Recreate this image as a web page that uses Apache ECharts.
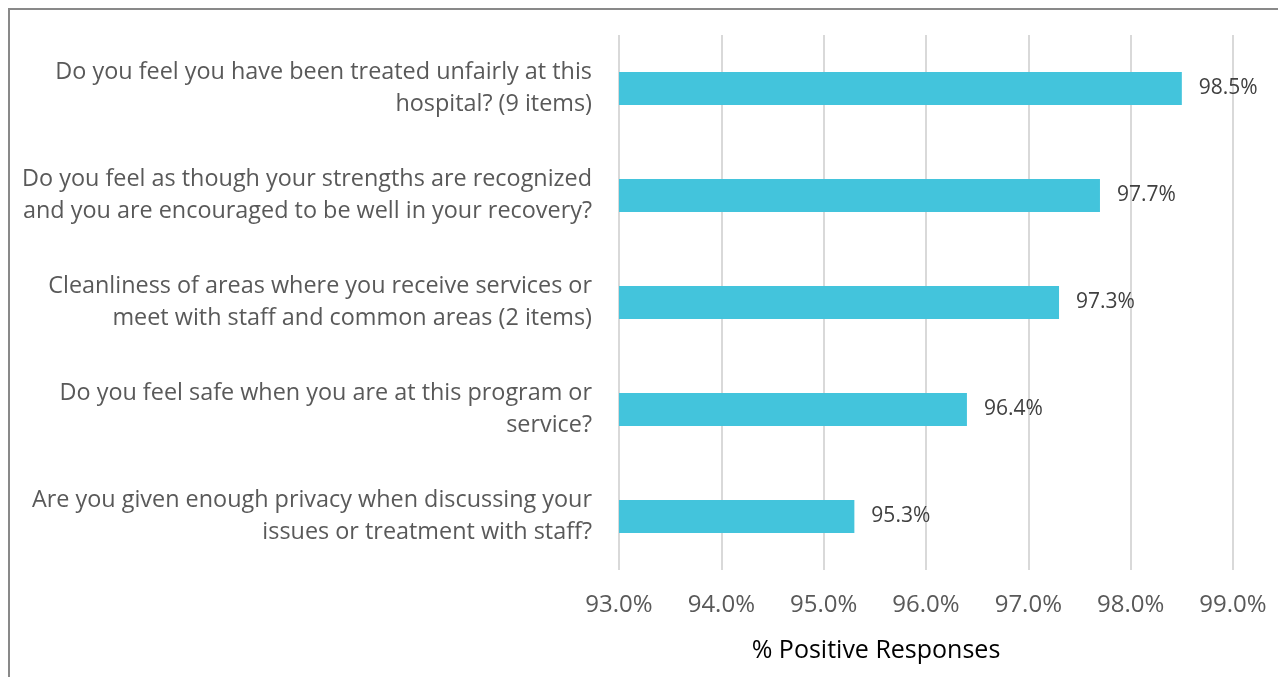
<!DOCTYPE html>
<html>
<head>
<meta charset="utf-8">
<script src="https://cdn.jsdelivr.net/npm/echarts@6/dist/echarts.min.js"></script>
<style>
html,body{margin:0;padding:0;background:#fff;}
#chart{width:1278px;height:677px;}
</style>
</head>
<body>
<div id="chart"></div>
<script>
const categories = [
  "Do you feel you have been treated unfairly at this\nhospital? (9 items)",
  "Do you feel as though your strengths are recognized\nand you are encouraged to be well in your recovery?",
  "Cleanliness of areas where you receive services or\nmeet with staff and common areas (2 items)",
  "Do you feel safe when you are at this program or\nservice?",
  "Are you given enough privacy when discussing your\nissues or treatment with staff?"
];
const values = [98.5, 97.7, 97.3, 96.4, 95.3];
const axisTitle = "% Positive Responses";

const FONT = "Open Sans";
const chart = echarts.init(document.getElementById('chart'), null, {renderer: 'canvas'});
chart.setOption({
  animation: false,
  backgroundColor: '#fff',
  grid: {left: 619, right: 45, top: 35, bottom: 107, containLabel: false},
  title: {
    text: axisTitle,
    left: 871, top: 633, textAlign: 'center',
    textStyle: {fontFamily: FONT, fontSize: 25, fontWeight: 'normal', color: '#000'}
  },
  xAxis: {
    type: 'value', min: 93, max: 99, interval: 1,
    axisLine: {show: false}, axisTick: {show: false},
    splitLine: {show: true, lineStyle: {color: '#d9d9d9', width: 2}},
    axisLabel: {
      formatter: v => v.toFixed(1) + '%',
      fontFamily: FONT, fontSize: 24, color: '#595959', margin: 23
    }
  },
  yAxis: {
    type: 'category', data: categories, inverse: true,
    axisLine: {show: false}, axisTick: {show: false},
    axisLabel: {
      fontFamily: FONT, fontSize: 23.4, color: '#595959', margin: 27,
      align: 'right', lineHeight: 32, padding: [4, 0, 0, 0]
    }
  },
  series: [{
    type: 'bar', data: values, barWidth: 33,
    itemStyle: {color: '#43C4DC'},
    label: {
      show: true, position: 'right', distance: 17,
      formatter: p => p.value.toFixed(1) + '%',
      fontFamily: FONT, fontSize: 21, color: '#404040'
    }
  }],
  graphic: [{
    type: 'rect', shape: {x: 9, y: 9, width: 1300, height: 700},
    style: {fill: 'none', stroke: '#898989', lineWidth: 2}, silent: true, z: 100
  }]
});
</script>
</body>
</html>
